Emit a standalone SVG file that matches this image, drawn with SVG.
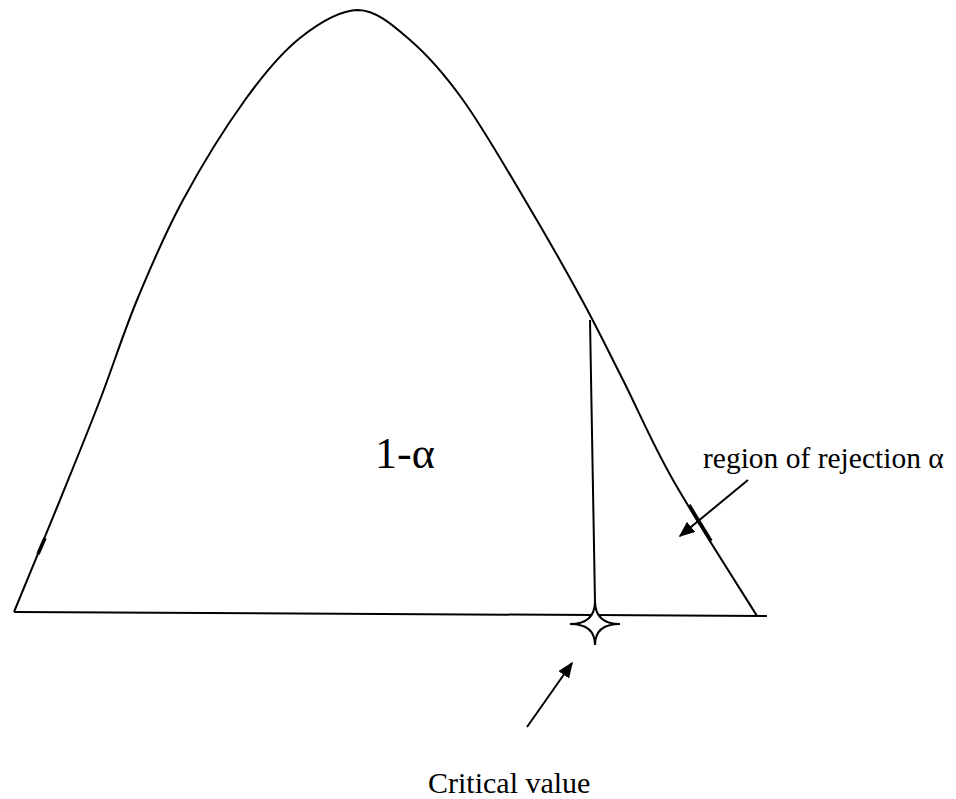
<svg xmlns="http://www.w3.org/2000/svg" width="956" height="799" viewBox="0 0 956 799">
<style>
.ln{fill:none;stroke:#000;stroke-width:2;stroke-linecap:butt}
.thick{fill:none;stroke:#000;stroke-width:3.5}
.lbl{font-family:"Liberation Serif","Times New Roman",serif;fill:#000}
</style>
<defs>
<marker id="ah" viewBox="0 0 10 10" refX="9" refY="5" markerWidth="16" markerHeight="13" markerUnits="userSpaceOnUse" orient="auto" preserveAspectRatio="none">
<path d="M0,0 L10,5 L0,10 Z" fill="#000"/>
</marker>
</defs>
<rect width="956" height="799" fill="#fff"/>
<g id="curve">
<path class="ln" d="M14,612 C21.7,593.3 45.7,535.3 60,500 C74.3,464.7 87.2,433.3 100,400 C112.8,366.7 123.2,333.3 137,300 C150.8,266.7 165,233.3 183,200 C201,166.7 225.5,127 245,100 C264.5,73 281.2,53 300,38 C318.8,23 339.7,10.3 358,10 C376.3,10.3 392.5,25 410,40 C427.5,55 443.8,73.3 463,100 C482.2,126.7 505.2,166.7 525,200 C544.8,233.3 565.7,270 582,300 C598.3,330 607.8,350 623,380 C638.2,410 650.7,440.7 673,480 C695.3,519.3 743,593.3 757,616"/>
<path class="thick" d="M38,554 L45,538"/>
<path class="thick" d="M689,505 L711,541"/>
</g>
<g id="baseline">
<path class="ln" d="M14,612 L767,616"/>
</g>
<g id="critical-line">
<path class="ln" d="M590,320 L595,602"/>
</g>
<g id="star">
<path d="M595,601 Q595,624 620,624 Q595,624 595,645 Q595,624 570,624 Q595,624 595,601 Z" fill="#fff" stroke="#000" stroke-width="2" stroke-linejoin="miter"/>
</g>
<g id="connectors">
<path class="ln" d="M748,480 L680,536" marker-end="url(#ah)"/>
<path class="ln" d="M527,727 L572,663" marker-end="url(#ah)"/>
</g>
<g id="label-main">
<text class="lbl" x="375" y="468" font-size="44">1-α</text>
</g>
<g id="label-region">
<text class="lbl" x="703" y="468" font-size="29.5">region of rejection α</text>
</g>
<g id="label-critical">
<text class="lbl" x="428" y="793" font-size="30">Critical value</text>
</g>
</svg>
